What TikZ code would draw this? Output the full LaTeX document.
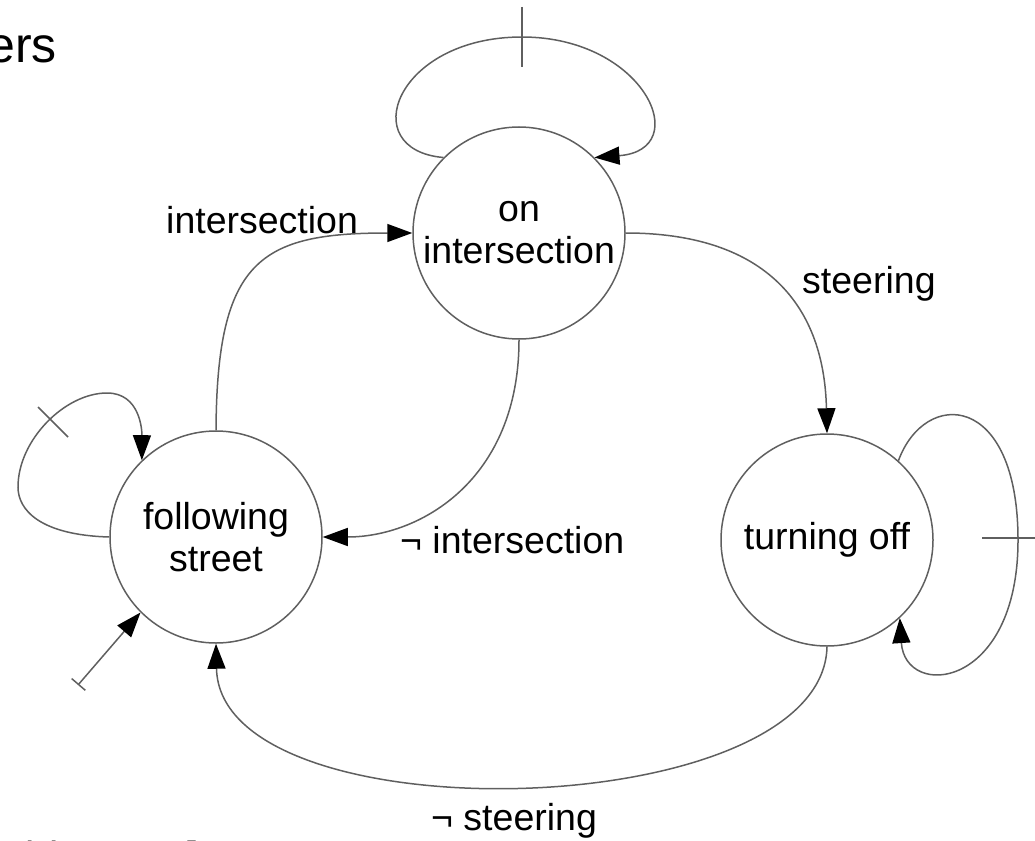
\documentclass[tikz,border=0pt]{standalone}
\usepackage{fontspec}
\setmainfont{Liberation Sans}
\usetikzlibrary{arrows.meta}
\definecolor{linegray}{RGB}{95,95,95}
\begin{document}
\begin{tikzpicture}[x=1pt,y=-1pt,
  state/.style={circle, draw=linegray, line width=1.5pt, minimum size=212pt,
    inner sep=0pt, align=center, font=\fontsize{37.5}{42}\selectfont},
  trans/.style={draw=linegray, line width=1.5pt,
    -{Triangle[length=25pt,width=18pt,color=black]}},
  tickmark/.style={draw=linegray, line width=1.5pt},
  lbl/.style={font=\fontsize{37.5}{42}\selectfont, inner sep=0pt, anchor=base west},
  big/.style={font=\fontsize{50}{56}\selectfont, inner sep=0pt}]
\useasboundingbox (0,0) rectangle (1035,840);
\clip (0,0) rectangle (1035,840);

% headline and citation fragments at the edges
\node[big, anchor=base east] (head) at (57,63) {ers};
\node[font=\fontsize{42}{48}\selectfont, inner sep=0pt, anchor=base east] (cite) at (199,871) {Sabin 2005]};

% states
\node[state] (onx)  at (519,233) {on\\intersection};
\node[state] (fs)   at (216,537) {following\\street};
\node[state] (turn) at (827,540) {turning off};

% self loops
\draw[trans] (onx.135) .. controls (355,150) and (395,37) .. (522,37)
  .. controls (645,37) and (695,150) .. (onx.45);
\draw[tickmark] (522,7) -- (522,67);

\draw[trans] (fs.west) .. controls (40,535) and (18,510) .. (18,487)
  .. controls (18,440) and (65,393) .. (107,393)
  .. controls (140,393) and (142,430) .. (fs.134);
\draw[tickmark] (38,407) -- (68,437);

\draw[trans] (turn.48) .. controls (925,388) and (1018,392) .. (1018,540)
  .. controls (1018,690) and (905,700) .. (turn.-47);
\draw[tickmark] (982,538) -- (1035,538);

% initial transition
\coordinate (init) at (78,685);
\draw[draw=linegray, line width=1.5pt,
  {Bar[width=18pt,color=linegray]}-{Triangle[length=25pt,width=18pt,color=black]}]
  (init) -- (fs.225);

% transitions between states
\draw[trans] (fs.north) .. controls (217,260) and (260,233) .. (onx.west);
\draw[trans] (onx.south) .. controls (519,480) and (420,537) .. (fs.east);
\draw[trans] (onx.east) .. controls (760,233) and (824,300) .. (turn.north);
\draw[trans] (turn.south) .. controls (823,825) and (220,839) .. (fs.south);

% transition labels
\node[lbl] (l1) at (166,233) {intersection};
\node[lbl] (l2) at (400,553) {¬ intersection};
\node[lbl] (l3) at (802,293) {steering};
\node[lbl] (l4) at (431,830) {¬ steering};
\end{tikzpicture}
\end{document}
